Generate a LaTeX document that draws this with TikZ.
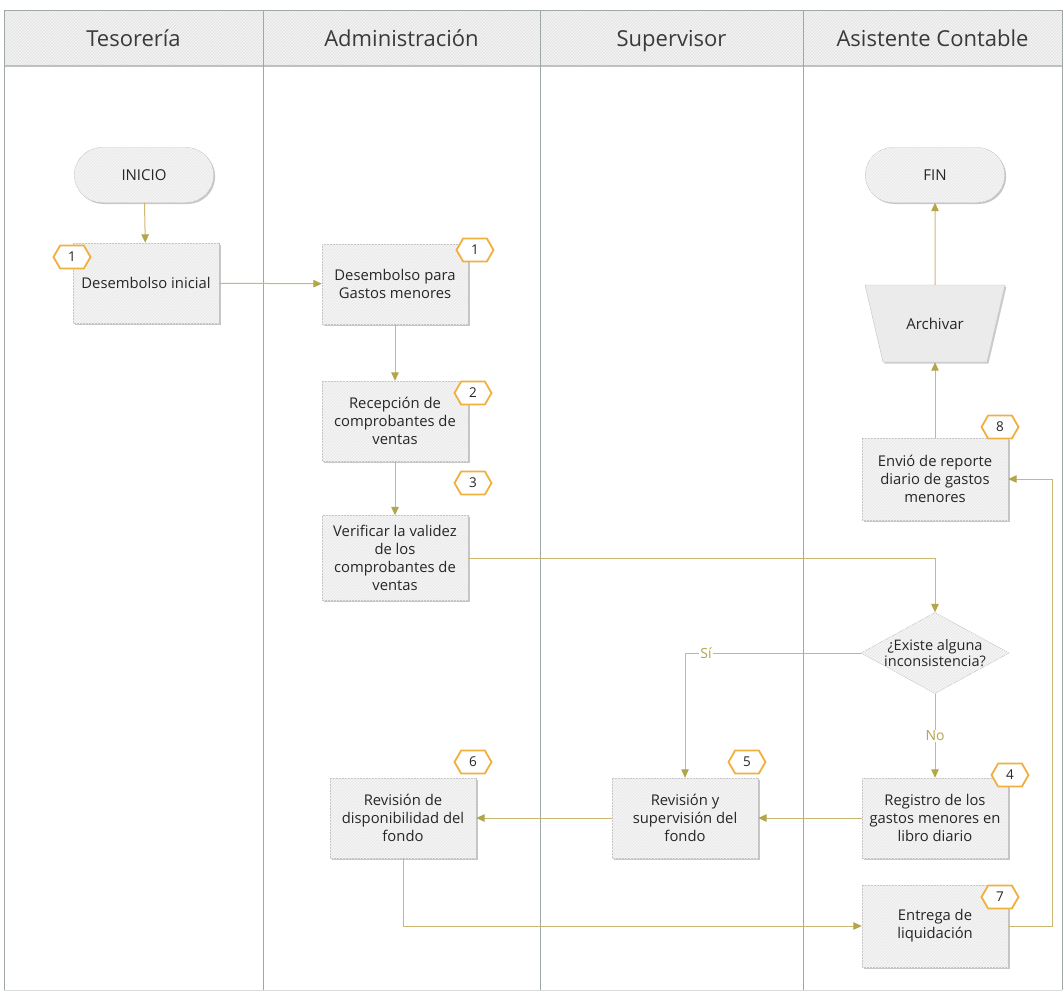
\documentclass[tikz,border=0pt]{standalone}
\usepackage{fontspec}
\setmainfont{Open Sans}
\usetikzlibrary{shapes.geometric,shapes.misc,shapes.symbols,arrows.meta,shadows,patterns}

\definecolor{laneline}{HTML}{9FA7A8}
\definecolor{hdrfill}{HTML}{E6E6E6}
\definecolor{boxfill}{HTML}{EBEBEB}
\definecolor{boxline}{HTML}{C2C2C2}
\definecolor{flowc}{HTML}{CDB873}
\definecolor{tipc}{HTML}{B3A64A}
\definecolor{badgeline}{HTML}{F0B040}
\definecolor{txt}{HTML}{262626}
\definecolor{hdrtxt}{HTML}{3A3A3A}

\tikzset{
  lane/.style={draw=laneline, line width=1pt},
  lanetitle/.style={anchor=base, font=\fontsize{22}{26}\selectfont, text=hdrtxt},
  hatch/.style={postaction={pattern=north east lines, pattern color=white!70!boxfill}},
  shade/.style={drop shadow={shadow xshift=1.5pt, shadow yshift=-1.5pt, fill=black, opacity=0.22}},
  proc/.style={shade, hatch, rectangle, draw=boxline, fill=boxfill, minimum width=146pt, minimum height=80pt,
    align=center, text=txt, font=\fontsize{14.8}{18}\selectfont, inner sep=1pt},
  term/.style={shade, hatch, rounded rectangle, draw=boxline, fill=boxfill, minimum width=146pt, minimum height=55pt,
    text=txt, font=\fontsize{15}{18}\selectfont},
  dec/.style={diamond, hatch, draw=boxline, fill=boxfill, inner sep=0pt, minimum width=148pt, minimum height=81pt},
  dectext/.style={align=center, text=txt, font=\fontsize{14.5}{16}\selectfont},
  badge/.style={signal, signal to=west and east, signal pointer angle=120, draw=badgeline, line width=1.8pt,
    fill=white, minimum width=37pt, minimum height=23pt, inner sep=1pt, text=txt, font=\fontsize{13.5}{15}\selectfont},
  flow/.style={draw=flowc, line width=1pt, -{Triangle[length=8.5pt,width=7.5pt,color=tipc]}},
  lbl/.style={fill=white, inner sep=1pt, text=tipc, font=\fontsize{14}{16}\selectfont}
}

\begin{document}
\begin{tikzpicture}[x=1pt,y=-1pt]
\useasboundingbox (0,0) rectangle (1064,994);
\fill[white] (0,0) rectangle (1064,994);

% swimlane header band
\fill[hdrfill, hatch] (4,10) rectangle (1062,66);
\draw[draw=laneline!70, line width=2pt] (4,66) -- (1062,66);
\draw[lane] (4,10) -- (1062,10);
\draw[draw=laneline!40] (4,990) -- (1062,990);

% lane separators
\foreach \x in {4,263,540,803,1062}
  \draw[lane] (\x,10) -- (\x,990);

\node[lanetitle] (h1) at (133.5,46) {Tesorería};
\node[lanetitle] (h2) at (401.5,46) {Administración};
\node[lanetitle] (h3) at (671.5,46) {Supervisor};
\node[lanetitle] (h4) at (932.5,46) {Asistente Contable};

% steps
\node[term] (ini) at (144,175) {INICIO};
\node[proc] (d0) at (146,283) {Desembolso inicial};
\node[proc] (a1) at (395,284) {Desembolso para\\Gastos menores};
\node[proc] (a2) at (395,421) {Recepción de\\comprobantes de\\ventas};
\node[proc, minimum height=85pt] (a3) at (395,558) {Verificar la validez\\de los\\comprobantes de\\ventas};
\node[dec] (q) at (935,653) {};
\node[dectext] (qt) at (q) {¿Existe alguna\\inconsistencia?};
\node[proc] (c4) at (935,818) {Registro de los\\gastos menores en\\libro diario};
\node[proc] (s5) at (685,818) {Revisión y\\supervisión del\\fondo};
\node[proc] (a6) at (403,818) {Revisión de\\disponibilidad del\\fondo};
\node[proc, minimum height=82pt] (c7) at (935,926) {Entrega de\\liquidación};
\node[proc, minimum height=82pt] (c8) at (935,479) {Envió de reporte\\diario de gastos\\menores};

% archive: inverted trapezoid (top 865-1005, bottom 883-987) with its shadow
\fill[black, opacity=0.2] (866.5,286.5) -- (1006.5,286.5) -- (988.5,363.5) -- (884.5,363.5) -- cycle;
\filldraw[fill=boxfill, draw=boxline] (865,285) -- (1005,285) -- (987,362) -- (883,362) -- cycle;
\node[minimum width=104pt, minimum height=77pt, inner sep=0pt, text=txt,
      font=\fontsize{15}{18}\selectfont] (ar) at (935,323.5) {Archivar};

\node[term] (fin) at (935,175) {FIN};

% step numbers
\node[badge] (n0) at (72,257) {1};
\node[badge] (n1) at (475,250) {1};
\node[badge] (n2) at (473,393) {2};
\node[badge] (n3) at (473,483) {3};
\node[badge] (n4) at (1010,775) {4};
\node[badge] (n5) at (747,762) {5};
\node[badge] (n6) at (473,762) {6};
\node[badge] (n7) at (1000,897) {7};
\node[badge] (n8) at (1000,427) {8};

% connectors
\draw[flow] (ini) -- (d0);
\draw[flow] (d0) -- (a1);
\draw[flow] (a1) -- (a2);
\draw[flow] (a2) -- (a3);
\draw[flow] (a3.east) -| (q.north);
\draw[flow] (q.west) -| node[lbl, pos=0.44] {Sí} (s5.north);
\draw[flow] (q) -- node[lbl] {No} (c4);
\draw[flow] (c4) -- (s5);
\draw[flow] (s5) -- (a6);
\draw[flow] (a6.south) |- (c7.west);
\coordinate (loop) at ([xshift=44pt]c7.east);
\draw[flow] (c7.east) -- (loop) |- (c8.east);
\draw[flow] (c8) -- (ar);
\draw[flow] (ar) -- (fin);
\end{tikzpicture}
\end{document}
